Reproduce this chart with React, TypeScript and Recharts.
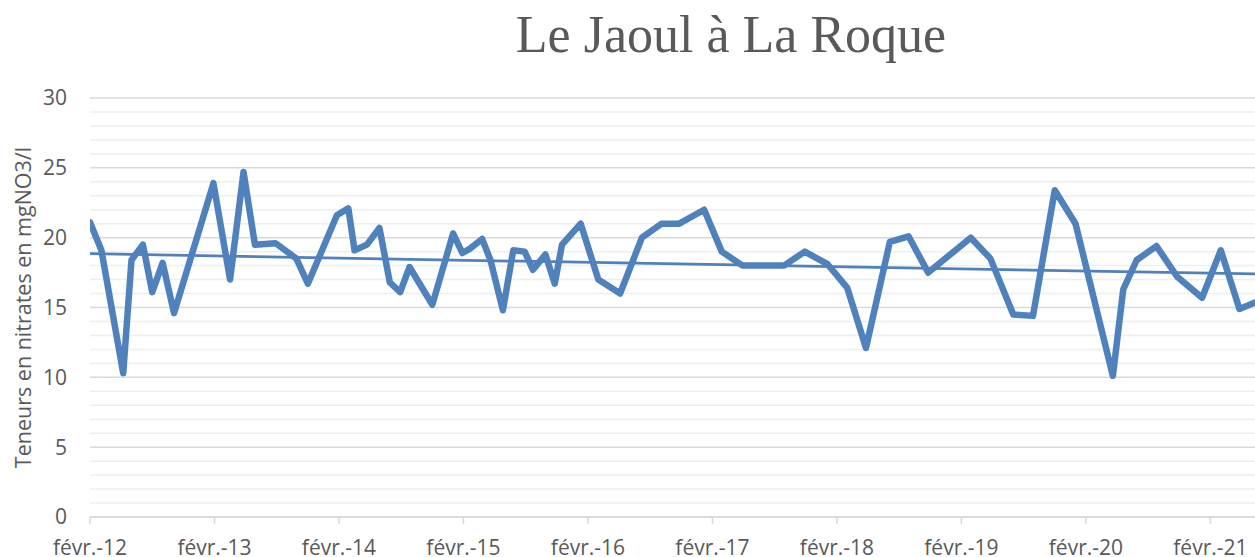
import React from 'react';
import { LineChart, Line, XAxis, YAxis, CartesianGrid } from 'recharts';

// months elapsed since févr. 2012
const months = [0, 1.1, 3.2, 4, 5.1, 6, 7, 8.1, 11.9, 13.5, 14.8, 15.9, 17.9, 19.9, 21, 23.8, 24.9, 25.5, 26.7, 27.9, 28.9, 29.9, 30.8, 33, 35, 35.9, 36.6, 37.8, 38.6, 39.8, 40.8, 41.9, 42.7, 43.9, 44.8, 45.5, 47.3, 49, 51.1, 53.2, 55.1, 56.8, 59.2, 60.9, 62.9, 66.9, 68.9, 71.1, 73, 74.8, 77.1, 78.9, 80.8, 84.9, 86.8, 89, 90.9, 93, 95, 98.6, 99.6, 100.9, 102.8, 104.8, 107.2, 109, 110.8, 112.3];
const nitrates = [21.1, 19.1, 10.3, 18.4, 19.5, 16.1, 18.2, 14.6, 23.9, 17.0, 24.7, 19.5, 19.6, 18.5, 16.7, 21.6, 22.1, 19.1, 19.5, 20.7, 16.8, 16.1, 17.9, 15.2, 20.3, 18.9, 19.2, 19.9, 18.4, 14.8, 19.1, 19.0, 17.7, 18.8, 16.7, 19.5, 21.0, 17.0, 16.0, 20.0, 21.0, 21.0, 22.0, 19.0, 18.0, 18.0, 19.0, 18.1, 16.4, 12.1, 19.7, 20.1, 17.5, 20.0, 18.5, 14.5, 14.4, 23.4, 21.0, 10.1, 16.3, 18.4, 19.4, 17.2, 15.7, 19.1, 14.9, 15.35];
// linear trend line endpoints
const trendStart = 18.85;
const trendEnd = 17.4;

const xTicks = [0, 12, 24, 36, 48, 60, 72, 84, 96, 108];
const xTickLabels = ['févr.-12', 'févr.-13', 'févr.-14', 'févr.-15', 'févr.-16', 'févr.-17', 'févr.-18', 'févr.-19', 'févr.-20', 'févr.-21'];
const yTicks = [0, 5, 10, 15, 20, 25, 30];
const yMinor = [1, 2, 3, 4, 6, 7, 8, 9, 11, 12, 13, 14, 16, 17, 18, 19, 21, 22, 23, 24, 26, 27, 28, 29];

const data = months.map((m, i) => ({
  m,
  v: nitrates[i],
  t: i === 0 ? trendStart : i === months.length - 1 ? trendEnd : null,
}));

const FONT = '"Open Sans", sans-serif';
const GREY = '#595959';

const YLabel = (props: any) => {
  const vb = props.viewBox || {};
  const x = 22;
  const y = vb.y + vb.height / 2;
  return (
    <text x={x} y={y} transform={`rotate(-90, ${x}, ${y})`} textAnchor="middle" dominantBaseline="central"
      fill={GREY} fontFamily={FONT} fontSize={21.5}>
      Teneurs en nitrates en mgNO3/l
    </text>
  );
};

export default function App() {
  return (
    <div style={{ position: 'absolute', left: 0, top: 0, width: 1255, height: 557, background: '#fff' }}>
      <svg width={1255} height={70} style={{ position: 'absolute', left: 0, top: 0 }}>
        <text x={731} y={52} textAnchor="middle" fill={GREY} fontFamily='"Liberation Serif", serif' fontSize={52}>
          Le Jaoul à La Roque
        </text>
      </svg>
      <div style={{ position: 'absolute', left: 0, top: 0 }}>
        <LineChart width={1255} height={557} data={data} margin={{ top: 98, right: 0, bottom: 0, left: 0 }}>
          <CartesianGrid horizontal vertical={false} horizontalValues={yMinor} stroke="#eeeeee" strokeWidth={1.5} />
          <CartesianGrid horizontal vertical={false} horizontalValues={yTicks} stroke="#d9d9d9" strokeWidth={1.5} />
          <XAxis
            dataKey="m"
            type="number"
            domain={[0, 112.3]}
            allowDataOverflow
            ticks={xTicks}
            tickFormatter={(v: number) => xTickLabels[xTicks.indexOf(v)] ?? ''}
            axisLine={{ stroke: '#d9d9d9', strokeWidth: 1.5 }}
            tickLine={{ stroke: '#d9d9d9', strokeWidth: 1.5 }}
            tickSize={7}
            tickMargin={16}
            tick={{ fill: GREY, fontFamily: FONT, fontSize: 21 }}
            interval={0}
            height={40}
          />
          <YAxis
            type="number"
            domain={[0, 30]}
            ticks={yTicks}
            axisLine={false}
            tickLine={false}
            tickMargin={17}
            width={90}
            tick={{ fill: GREY, fontFamily: FONT, fontSize: 21 }}
            label={{ content: YLabel }}
            interval={0}
          />
          <Line type="linear" dataKey="v" stroke="#4f81bd" strokeWidth={6.5} dot={false} strokeLinejoin="round" strokeLinecap="round" isAnimationActive={false} />
          <Line type="linear" dataKey="t" stroke="#4f81bd" strokeWidth={2.75} dot={false} connectNulls isAnimationActive={false} />
        </LineChart>
      </div>
    </div>
  );
}
